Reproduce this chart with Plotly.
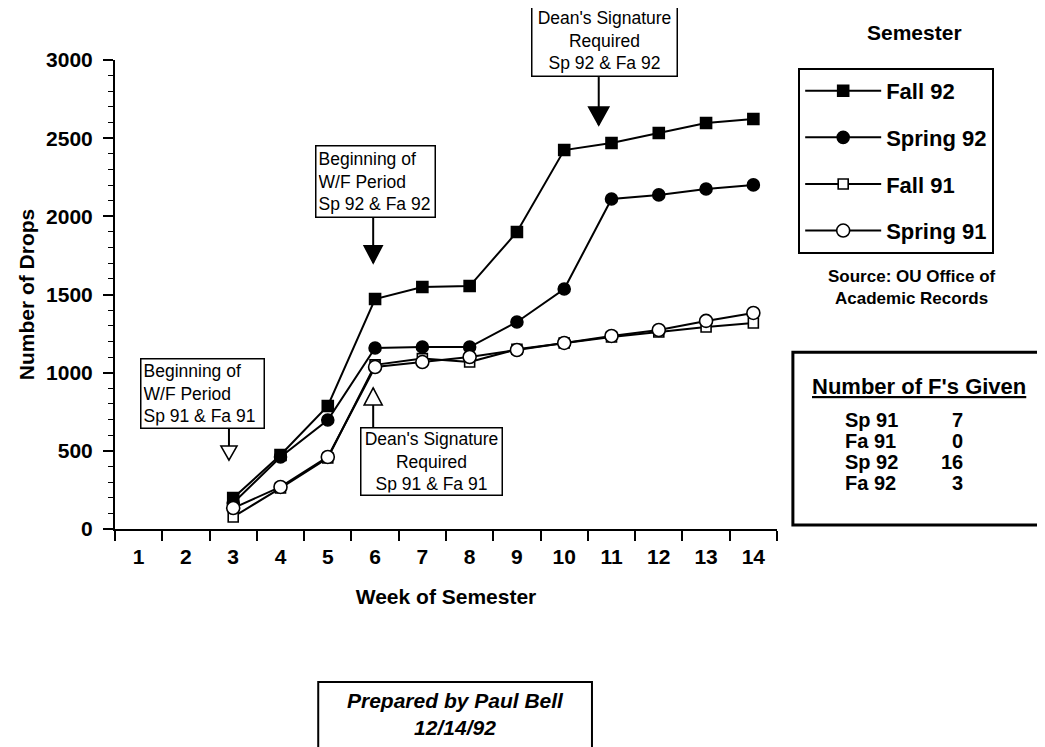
import plotly.graph_objects as go

# ---------------- data ----------------
weeks = [3, 4, 5, 6, 7, 8, 9, 10, 11, 12, 13, 14]
fall_92 = [198, 473, 787, 1471, 1548, 1554, 1900, 2424, 2469, 2533, 2597, 2623]
spring_92 = [166, 461, 697, 1158, 1164, 1164, 1324, 1535, 2111, 2137, 2175, 2201]
fall_91 = [77, 262, 454, 1050, 1090, 1068, 1150, 1190, 1228, 1260, 1292, 1318]
spring_91 = [134, 269, 461, 1036, 1068, 1100, 1145, 1190, 1235, 1273, 1331, 1382]

week_ticks = [1, 2, 3, 4, 5, 6, 7, 8, 9, 10, 11, 12, 13, 14]
week_labels = [str(w) for w in week_ticks]

series_names = ["Fall 92", "Spring 92", "Fall 91", "Spring 91"]
series_values = [fall_92, spring_92, fall_91, spring_91]

f_semesters = ["Sp 91", "Fa 91", "Sp 92", "Fa 92"]
f_counts = [7, 0, 16, 3]

FONT = "Liberation Sans, Arial, Helvetica, sans-serif"

# marker styles per series
styles = {
    "Fall 92": dict(symbol="square", size=11, color="black"),
    "Spring 92": dict(symbol="circle", size=12, color="black"),
    "Fall 91": dict(symbol="square", size=10, color="white"),
    "Spring 91": dict(symbol="circle", size=13, color="white"),
}

fig = go.Figure()
for name, vals in zip(series_names, series_values):
    st = styles[name]
    fig.add_trace(go.Scatter(
        x=weeks, y=vals, name=name, legendgroup=name,
        mode="lines+markers",
        line=dict(color="black", width=2),
        marker=dict(symbol=st["symbol"], size=st["size"], color=st["color"],
                    line=dict(color="black", width=1.6)),
        cliponaxis=False,
    ))

# ---------------- callouts (boxes with arrows) ----------------
callouts = [
    dict(text="Beginning of<br>W/F Period<br>Sp 91 & Fa 91", x=1.03, y=1094,
         xanchor="left", yanchor="top", align="left", w=118, h=64,
         ax=2.91, y_from=646, y_tip=441, down=True, filled=False, hw=8, th=14),
    dict(text="Beginning of<br>W/F Period<br>Sp 92 & Fa 92", x=4.73, y=2456,
         xanchor="left", yanchor="top", align="left", w=114, h=66,
         ax=5.96, y_from=1996, y_tip=1702, down=True, filled=True, hw=9, th=17),
    dict(text="Dean's Signature<br>Required<br>Sp 91 & Fa 91", x=7.19, y=652,
         xanchor="center", yanchor="top", align="center", w=136, h=62,
         ax=5.96, y_from=652, y_tip=902, down=False, filled=False, hw=9, th=17),
    dict(text="Dean's Signature<br>Required<br>Sp 92 & Fa 92", x=10.86, y=2891,
         xanchor="center", yanchor="bottom", align="center", w=140, h=66,
         ax=10.73, y_from=2891, y_tip=2584, down=True, filled=True, hw=10, th=18),
]

annotations = []
shapes = []
for c in callouts:
    annotations.append(dict(
        text=c["text"], x=c["x"], y=c["y"], xref="x", yref="y",
        xanchor=c["xanchor"], yanchor=c["yanchor"], align=c["align"],
        width=c["w"], height=c["h"], showarrow=False,
        font=dict(family=FONT, size=17.5, color="black"),
        bordercolor="black", borderwidth=1.5, borderpad=2, bgcolor="white",
    ))
    shapes.append(dict(type="line", xref="x", yref="y",
                       x0=c["ax"], x1=c["ax"], y0=c["y_from"], y1=c["y_tip"],
                       line=dict(color="black", width=2), layer="above"))
    hw, th = c["hw"], c["th"]
    if c["down"]:
        path = f"M0,0 L{-hw},{th} L{hw},{th} Z"
    else:
        path = f"M0,0 L{-hw},{-th} L{hw},{-th} Z"
    shapes.append(dict(type="path", xref="x", yref="y",
                       xsizemode="pixel", ysizemode="pixel",
                       xanchor=c["ax"], yanchor=c["y_tip"], path=path,
                       fillcolor="black" if c["filled"] else "white",
                       line=dict(color="black", width=1.6), layer="above"))

# axis cross extensions
shapes.append(dict(type="line", xref="paper", yref="paper", x0=0, x1=0,
                   ysizemode="pixel", yanchor=0, y0=0, y1=-12,
                   line=dict(color="black", width=2)))
shapes.append(dict(type="line", xref="paper", yref="paper", y0=0, y1=0,
                   xsizemode="pixel", xanchor=0, x0=-12, x1=0,
                   line=dict(color="black", width=2)))

# legend title & source
annotations.append(dict(text="<b>Semester</b>", x=1.208, y=1.058, xref="paper", yref="paper",
                        showarrow=False, xanchor="center", yanchor="middle",
                        font=dict(family=FONT, size=21, color="black")))
annotations.append(dict(text="<b>Source: OU Office of<br>Academic Records</b>", x=1.204, y=0.514,
                        xref="paper", yref="paper", showarrow=False,
                        xanchor="center", yanchor="middle",
                        font=dict(family=FONT, size=17, color="black")))

# F's table
shapes.append(dict(type="rect", xref="paper", yref="paper", x0=1.024, x1=1.402,
                   y0=0.0085, y1=0.377, line=dict(color="black", width=3)))
annotations.append(dict(text="<b><u>Number of F's Given</u></b>", x=1.215, y=0.303,
                        xref="paper", yref="paper", showarrow=False,
                        xanchor="center", yanchor="middle",
                        font=dict(family=FONT, size=22, color="black")))
row_y = [0.232, 0.188, 0.143, 0.098]
for lab, cnt, ry in zip(f_semesters, f_counts, row_y):
    annotations.append(dict(text=f"<b>{lab}</b>", x=1.100, y=ry, xref="paper", yref="paper",
                            showarrow=False, xanchor="left", yanchor="middle",
                            font=dict(family=FONT, size=20, color="black")))
    annotations.append(dict(text=f"<b>{cnt}</b>", x=1.284, y=ry, xref="paper", yref="paper",
                            showarrow=False, xanchor="right", yanchor="middle",
                            font=dict(family=FONT, size=20, color="black")))

# prepared-by box
shapes.append(dict(type="rect", xref="paper", yref="paper", x0=0.307, x1=0.7205,
                   y0=-0.52, y1=-0.326, line=dict(color="black", width=2)))
annotations.append(dict(text="<b><i>Prepared by Paul Bell<br>12/14/92</i></b>", x=0.514, y=-0.394,
                        xref="paper", yref="paper", showarrow=False,
                        xanchor="center", yanchor="middle",
                        font=dict(family=FONT, size=21, color="black")))

fig.update_layout(
    width=1037, height=739,
    margin=dict(l=107, r=268, t=52, b=218),
    plot_bgcolor="white", paper_bgcolor="white",
    font=dict(family=FONT, color="black"),
    showlegend=True,
    legend=dict(x=1.032, y=0.983, xanchor="left", yanchor="top",
                bordercolor="black", borderwidth=2, bgcolor="white",
                font=dict(family=FONT, size=22, weight="bold", color="black"),
                tracegroupgap=15, itemwidth=76),
    annotations=annotations,
    shapes=shapes,
    xaxis=dict(
        range=[0.5, 14.5], tickmode="array", tickvals=week_ticks, ticktext=week_labels,
        ticks="", ticklabelstandoff=8,
        tickfont=dict(family=FONT, size=21, weight="bold", color="black"),
        showline=True, linecolor="black", linewidth=2, showgrid=False, zeroline=False,
        minor=dict(tick0=0.5, dtick=1, ticks="outside", ticklen=10, tickwidth=1.5,
                   tickcolor="black", showgrid=False),
        title=dict(text="Week of Semester", standoff=22,
                   font=dict(family=FONT, size=21, weight="bold", color="black")),
    ),
    yaxis=dict(
        range=[0, 3000], dtick=500, tick0=0, ticks="outside", ticklen=10, tickwidth=1.5,
        tickcolor="black", ticklabelstandoff=6,
        tickfont=dict(family=FONT, size=21, weight="bold", color="black"),
        showline=True, linecolor="black", linewidth=2, showgrid=False, zeroline=False,
        minor=dict(dtick=100, ticks="outside", ticklen=5, tickwidth=1.2,
                   tickcolor="black", showgrid=False),
        title=dict(text="Number of Drops", standoff=6,
                   font=dict(family=FONT, size=21, weight="bold", color="black")),
    ),
)

fig.write_html("out.html")
